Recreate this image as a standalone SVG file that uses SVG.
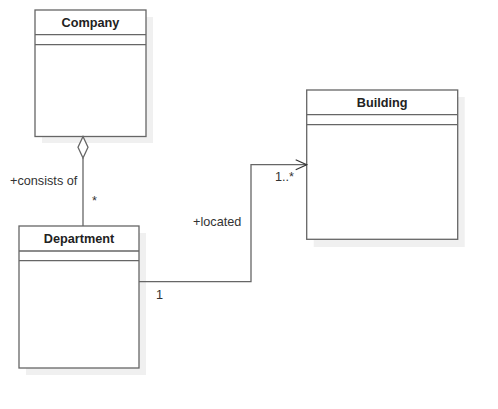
<svg xmlns="http://www.w3.org/2000/svg" width="498" height="409" viewBox="0 0 498 409">
<defs>
<style>
.shadow{fill:#f0f0f0;stroke:none}
.box{fill:#fff;stroke:#666;stroke-width:1.3}
.div{stroke:#666;stroke-width:1.3;fill:none}
.title{font-family:"Liberation Sans",Arial,sans-serif;font-size:12.7px;font-weight:bold;fill:#222;text-anchor:middle}
.lbl{font-family:"Liberation Sans",Arial,sans-serif;font-size:12.7px;fill:#333}
.edge{stroke:#666;stroke-width:1.3;fill:none}
</style>
<marker id="open" markerWidth="14" markerHeight="12" refX="12" refY="6" orient="auto" markerUnits="userSpaceOnUse">
<path d="M1,1 L12,6 L1,11" fill="none" stroke="#333" stroke-width="1.2"/>
</marker>
</defs>
<rect width="498" height="409" fill="#fff"/>
<g id="company">
<rect class="shadow" x="42" y="17" width="111" height="126"/>
<rect class="box" x="35" y="10" width="111" height="126.5"/>
<line class="div" x1="35" y1="34.7" x2="146" y2="34.7"/>
<line class="div" x1="35" y1="44.7" x2="146" y2="44.7"/>
<text class="title" x="90.5" y="26.5">Company</text>
</g>
<g id="department">
<rect class="shadow" x="26" y="233" width="120" height="142"/>
<rect class="box" x="19" y="226" width="120" height="142"/>
<line class="div" x1="19" y1="251" x2="139" y2="251"/>
<line class="div" x1="19" y1="260.7" x2="139" y2="260.7"/>
<text class="title" x="79" y="242.5">Department</text>
</g>
<g id="building">
<rect class="shadow" x="313.7" y="97" width="151" height="150"/>
<rect class="box" x="306.7" y="90" width="151" height="149.3"/>
<line class="div" x1="306.7" y1="114.7" x2="457.7" y2="114.7"/>
<line class="div" x1="306.7" y1="124.7" x2="457.7" y2="124.7"/>
<text class="title" x="382.2" y="106.5">Building</text>
</g>
<g id="connectors">
<path class="edge" d="M83,136.5 L88,147.3 L83,158 L78,147.3 Z" style="fill:#fff"/>
<line class="edge" x1="83" y1="158" x2="83" y2="226"/>
<text class="lbl" x="10" y="184.5">+consists of</text>
<text class="lbl" x="92" y="205">*</text>
<path class="edge" d="M139,281.7 L251,281.7 L251,164.7 L306.7,164.7" marker-end="url(#open)"/>
<text class="lbl" x="156" y="299">1</text>
<text class="lbl" x="193" y="225.5">+located</text>
<text class="lbl" x="275" y="181">1..*</text>
</g>
</svg>
